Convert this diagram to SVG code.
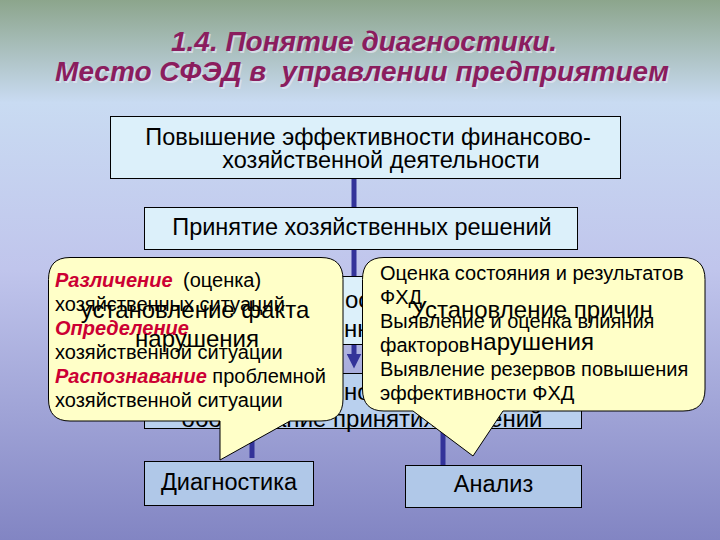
<svg xmlns="http://www.w3.org/2000/svg" width="720" height="540" viewBox="0 0 720 540">
  <defs>
    <linearGradient id="bg" x1="0" y1="0" x2="0" y2="1">
      <stop offset="0" stop-color="#8ca58c"/>
      <stop offset="0.19" stop-color="#c9dbf2"/>
      <stop offset="0.5" stop-color="#c0c5ec"/>
      <stop offset="1" stop-color="#8285c3"/>
    </linearGradient>
    <marker id="arrowhead" markerWidth="3" markerHeight="3" refX="1.5" refY="1.5" orient="auto" markerUnits="strokeWidth" viewBox="0 0 3 3">
      <path d="M0,0 L3,1.5 L0,3 Z" fill="#333399"/>
    </marker>
    <style>
      .box { stroke: #000; stroke-width: 1; }
      .light { fill: #dcf0fa; }
      .mid { fill: #b9d0ee; }
      .dark { fill: #b0c8e8; }
      .t { font-family: "Liberation Sans", Arial, sans-serif; fill: #000; }
      .bt { font-size: 23.5px; text-anchor: middle; }
      .ct { font-size: 20px; }
      .em { font-weight: bold; font-style: italic; fill: #cc0033; }
      .big { font-size: 24px; text-anchor: middle; }
      .frag { font-size: 24px; text-anchor: start; }
      .bar { stroke: #333399; stroke-width: 5; fill: none; }
      .callout { fill: #ffffc8; stroke: #000; stroke-width: 1; }
      .title { font-family: "Liberation Sans", Arial, sans-serif; font-size: 28px; font-weight: bold; font-style: italic; text-anchor: middle; white-space: pre; }
      .tmain { fill: #8b1d5e; }
      .tshadow { fill: #e4e8f4; opacity: 0.7; }
    </style>
  </defs>

  <rect width="720" height="540" fill="url(#bg)"/>

  <g id="title">
    <text class="title tshadow" x="365.5" y="52.5">1.4. Понятие диагностики.</text>
    <text class="title tshadow" x="363.5" y="82.5" xml:space="preserve">Место СФЭД в  управлении предприятием</text>
    <text class="title tmain" x="364" y="51">1.4. Понятие диагностики.</text>
    <text class="title tmain" x="362" y="81" xml:space="preserve">Место СФЭД в  управлении предприятием</text>
  </g>

  <g id="node-goal">
    <rect class="box light" x="110.5" y="116.5" width="510" height="62"/>
    <text class="t bt" x="368" y="145">Повышение эффективности финансово-</text>
    <text class="t bt" x="381" y="168">хозяйственной деятельности</text>
  </g>

  <g id="node-decisions">
    <rect class="box light" x="144.5" y="207.5" width="433" height="42"/>
    <text class="t bt" x="362" y="235">Принятие хозяйственных решений</text>
  </g>

  <g id="node-hidden-upper">
    <rect class="box light" x="144.5" y="276.5" width="437" height="68"/>
    <text class="t frag" x="345" y="308">ос</text>
    <text class="t frag" x="344" y="337">нн</text>
  </g>

  <g id="node-hidden-lower">
    <rect class="box mid" x="144.5" y="373.5" width="437" height="55"/>
    <text class="t frag" x="344" y="400">но</text>
    <text class="t big" x="362" y="427">обоснование принятия решений</text>
  </g>

  <g id="node-diagnostics">
    <rect class="box dark" x="144.5" y="461.5" width="169" height="44"/>
    <text class="t bt" x="229" y="490">Диагностика</text>
  </g>

  <g id="node-analysis">
    <rect class="box dark" x="405.5" y="465.5" width="176" height="42"/>
    <text class="t bt" x="493.5" y="492">Анализ</text>
  </g>

  <g id="connectors">
    <line class="bar" x1="354" y1="179" x2="354" y2="207"/>
    <line class="bar" x1="354" y1="250" x2="354" y2="276"/>
    <line class="bar" x1="354" y1="345" x2="354" y2="361" marker-end="url(#arrowhead)"/>
    <line class="bar" x1="252" y1="429" x2="252" y2="458"/>
    <line class="bar" x1="443" y1="429" x2="443" y2="465"/>
  </g>

  <g id="callout-diagnostics">
    <path class="callout" d="M70,257.5 H321 Q343,257.5 343,279.5 V399 Q343,421 321,421 H290 L220,460 L220,421 H70 Q48.5,421 48.5,399 V279.5 Q48.5,257.5 70,257.5 Z"/>
    <text class="t ct" x="55" y="287"><tspan class="em">Различение</tspan><tspan x="183">(оценка)</tspan></text>
    <text class="t ct" x="55" y="311">хозяйственных ситуаций</text>
    <text class="t ct em" x="55" y="335">Определение</text>
    <text class="t ct" x="55" y="359">хозяйственной ситуации</text>
    <text class="t ct" x="55" y="383"><tspan class="em">Распознавание</tspan> проблемной</text>
    <text class="t ct" x="55" y="407">хозяйственной ситуации</text>
    <text class="t big" x="195" y="318">установление факта</text>
    <text class="t big" x="197" y="347">нарушения</text>
  </g>

  <g id="callout-analysis">
    <path class="callout" d="M384,257.5 H683 Q705,257.5 705,279.5 V389 Q705,411 683,411 H503 L473,456 L413,411 H384 Q362.5,411 362.5,389 V279.5 Q362.5,257.5 384,257.5 Z"/>
    <text class="t ct" x="380" y="280">Оценка состояния и результатов</text>
    <text class="t ct" x="380" y="304">ФХД</text>
    <text class="t ct" x="380" y="328">Выявление и оценка влияния</text>
    <text class="t ct" x="380" y="352">факторов</text>
    <text class="t ct" x="380" y="376">Выявление резервов повышения</text>
    <text class="t ct" x="380" y="400">эффективности ФХД</text>
    <text class="t big" x="532" y="318">Установление причин</text>
    <text class="t big" x="532" y="350">нарушения</text>
  </g>
</svg>
